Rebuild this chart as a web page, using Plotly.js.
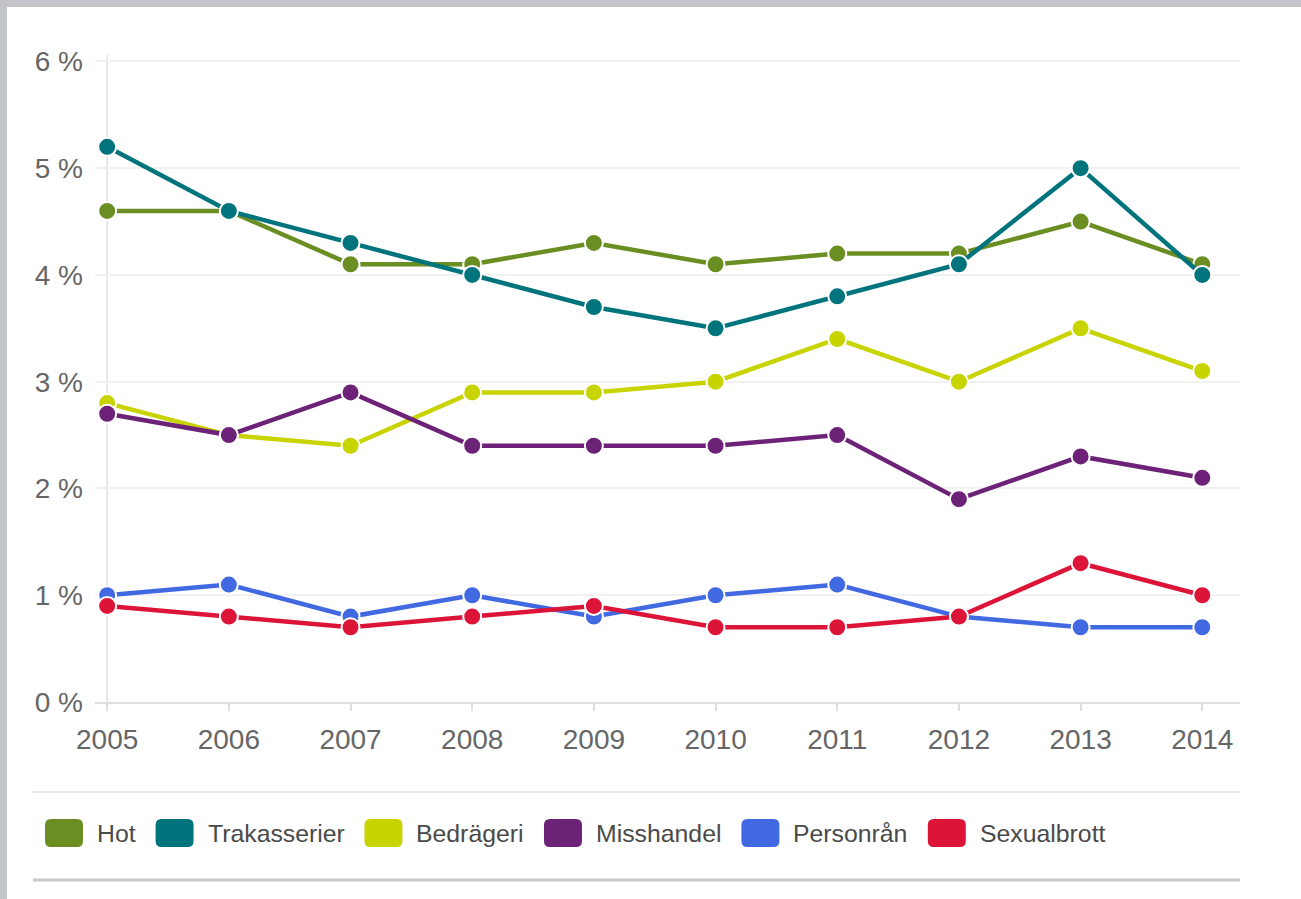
<!DOCTYPE html>
<html>
<head>
<meta charset="utf-8">
<script src="https://cdn.plot.ly/plotly-3.0.1.min.js"></script>
<style>
  html, body { margin: 0; padding: 0; background: #c3c4c9; width: 1301px; height: 899px; overflow: hidden; }
  #card { position: absolute; left: 7px; top: 7px; right: 0; bottom: 0; background: #ffffff; }
  #chart { position: absolute; left: 0; top: 0; width: 1301px; height: 899px; }
</style>
</head>
<body>
<div id="card"></div>
<div id="chart"></div>
<script>
// ---- data ----
const years = [2005, 2006, 2007, 2008, 2009, 2010, 2011, 2012, 2013, 2014];
const seriesNames = ["Hot", "Trakasserier", "Bedrägeri", "Misshandel", "Personrån", "Sexualbrott"];
const hot          = [4.6, 4.6, 4.1, 4.1, 4.3, 4.1, 4.2, 4.2, 4.5, 4.1];
const trakasserier = [5.2, 4.6, 4.3, 4.0, 3.7, 3.5, 3.8, 4.1, 5.0, 4.0];
const bedrageri    = [2.8, 2.5, 2.4, 2.9, 2.9, 3.0, 3.4, 3.0, 3.5, 3.1];
const misshandel   = [2.7, 2.5, 2.9, 2.4, 2.4, 2.4, 2.5, 1.9, 2.3, 2.1];
const personran    = [1.0, 1.1, 0.8, 1.0, 0.8, 1.0, 1.1, 0.8, 0.7, 0.7];
const sexualbrott  = [0.9, 0.8, 0.7, 0.8, 0.9, 0.7, 0.7, 0.8, 1.3, 1.0];
const yTicks = [0, 1, 2, 3, 4, 5, 6];
const seriesValues = [hot, trakasserier, bedrageri, misshandel, personran, sexualbrott];

// ---- styles ----
const colors = ["#6b8e23", "#00747c", "#c8d400", "#6c2277", "#4169e1", "#dc1438"];
const FONT = '"Liberation Sans", Arial, sans-serif';

const traces = seriesNames.map((name, i) => ({
  type: 'scatter',
  mode: 'lines+markers',
  name: name,
  x: years,
  y: seriesValues[i],
  line: { color: colors[i], width: 4.5 },
  marker: { color: colors[i], size: 18, line: { color: '#ffffff', width: 2 } },
  showlegend: false,
  hoverinfo: 'x+y+name'
}));

// ---- custom legend (rounded swatches + labels) ----
const W = 1301, H = 899;
const mL = 95, mR = 61, mT = 55, mB = 197;
const legendY = 833;
const LEG_FS = 24.8;
const shapes = [];
const annotations = [];

const ctx = document.createElement('canvas').getContext('2d');
ctx.font = LEG_FS + 'px ' + FONT;
let lx = 45;
const sw = 38, sh = 28, rr = 6;
function px2paperX(px) { return (px - mL) / (W - mL - mR); }
function px2paperY(py) { return (H - mB - py) / (H - mT - mB); }
seriesNames.forEach((name, i) => {
  const x0 = 0, y0 = -sh / 2, x1 = sw, y1 = sh / 2;
  const path = `M ${x0 + rr} ${y0} L ${x1 - rr} ${y0} Q ${x1} ${y0} ${x1} ${y0 + rr} L ${x1} ${y1 - rr} Q ${x1} ${y1} ${x1 - rr} ${y1} L ${x0 + rr} ${y1} Q ${x0} ${y1} ${x0} ${y1 - rr} L ${x0} ${y0 + rr} Q ${x0} ${y0} ${x0 + rr} ${y0} Z`;
  shapes.push({
    type: 'path', xref: 'paper', yref: 'paper',
    xsizemode: 'pixel', ysizemode: 'pixel',
    xanchor: px2paperX(lx), yanchor: px2paperY(legendY),
    path: path, fillcolor: colors[i], line: { width: 0 }
  });
  const tx = lx + sw + 12;
  annotations.push({
    xref: 'paper', yref: 'paper', x: px2paperX(tx), y: px2paperY(legendY),
    xanchor: 'left', yanchor: 'middle', showarrow: false,
    text: name, font: { family: FONT, size: LEG_FS, color: '#4a4a4a' }
  });
  lx = tx + ctx.measureText(name).width + 22;
});

// separator lines
shapes.push({ type: 'line', xref: 'paper', yref: 'paper', layer: 'below',
  x0: px2paperX(33), x1: px2paperX(1240), y0: px2paperY(792), y1: px2paperY(792),
  line: { color: '#e2e2e2', width: 1.5 } });
shapes.push({ type: 'line', xref: 'paper', yref: 'paper', layer: 'below',
  x0: px2paperX(33), x1: px2paperX(1240), y0: px2paperY(880), y1: px2paperY(880),
  line: { color: '#c9c9c9', width: 3 } });

// vertical axis line at first year
shapes.push({ type: 'line', xref: 'x', yref: 'paper', layer: 'below',
  x0: years[0], x1: years[0], y0: 0, y1: 1,
  line: { color: '#e6e6e6', width: 2 } });

const layout = {
  width: W, height: H,
  margin: { l: mL, r: mR, t: mT, b: mB },
  paper_bgcolor: 'rgba(0,0,0,0)',
  plot_bgcolor: 'rgba(0,0,0,0)',
  showlegend: false,
  xaxis: {
    type: 'linear',
    range: [2004.9, 2014.31],
    tickvals: years,
    ticktext: years.map(String),
    showgrid: false,
    zeroline: false,
    showline: true, linecolor: '#dedede', linewidth: 2,
    ticks: 'outside', ticklen: 7, tickwidth: 2, tickcolor: '#dedede',
    ticklabelstandoff: 4,
    tickfont: { family: FONT, size: 28, color: '#666666' },
    fixedrange: true
  },
  yaxis: {
    range: [0, 6.06],
    tickvals: yTicks,
    ticktext: yTicks.map(v => v + ' %'),
    showgrid: true, gridcolor: '#f1f1f1', gridwidth: 2,
    zeroline: false,
    showline: false,
    ticks: '',
    ticklabelstandoff: 11,
    tickfont: { family: FONT, size: 28, color: '#666666' },
    fixedrange: true
  },
  shapes: shapes,
  annotations: annotations,
  font: { family: FONT }
};

Plotly.newPlot('chart', traces, layout, { displayModeBar: false });
</script>
</body>
</html>
